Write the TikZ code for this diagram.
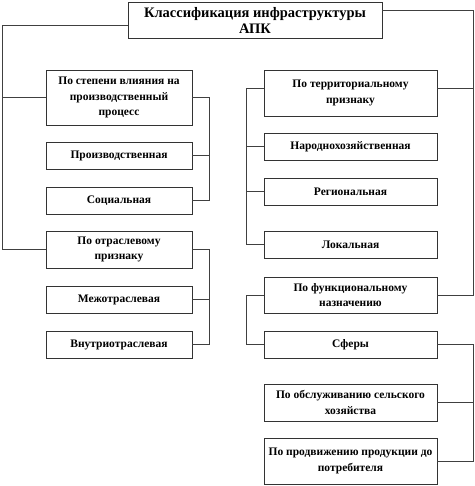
\documentclass[tikz,border=0pt]{standalone}
\usepackage{fontspec}
\setmainfont{Liberation Serif}
\usepackage{tikz}

\begin{document}
\begin{tikzpicture}[x=1pt, y=-1pt,
    box/.style={draw=black!80, rectangle, line width=0.8pt, align=center, font=\fontsize{11.5}{15.5}\selectfont\bfseries, inner sep=1pt},
    lbox/.style={box, minimum width=146pt},
    rbox/.style={box, minimum width=173pt},
    link/.style={draw=black!75, line width=0.7pt}]
                \useasboundingbox (0,0) rectangle (474,486);
                \node[box, minimum width=254pt, minimum height=36pt, font=\fontsize{14.5}{16}\selectfont\bfseries] (root) at (255,20) {Классификация инфраструктуры\\АПК};

                \node[lbox, minimum height=55pt] (l1) at (119,97.5) {По степени влияния на\\производственный\\процесс};
                \node[lbox, minimum height=27pt] (l2) at (119,155.5) {Производственная};
                \node[lbox, minimum height=27pt] (l3) at (119,200.5) {Социальная};
                \node[lbox, minimum height=37pt] (l4) at (119,249.5) {По отраслевому\\признаку};
                \node[lbox, minimum height=27pt] (l5) at (119,299.5) {Межотраслевая};
                \node[lbox, minimum height=27pt] (l6) at (119,344.5) {Внутриотраслевая};

                \node[rbox, minimum height=46pt] (r1) at (350.5,93) {По территориальному\\признаку};
                \node[rbox, minimum height=27pt] (r2) at (350.5,146.5) {Народнохозяйственная};
                \node[rbox, minimum height=27pt] (r3) at (350.5,191.5) {Региональная};
                \node[rbox, minimum height=27pt] (r4) at (350.5,244.5) {Локальная};
                \node[rbox, minimum height=36pt] (r5) at (350.5,295) {По функциональному\\назначению};
                \node[rbox, minimum height=27pt] (r6) at (350.5,344.5) {Сферы};
                \node[rbox, minimum height=37pt] (r7) at (350.5,402.5) {По обслуживанию сельского\\хозяйства};
                \node[rbox, minimum height=46pt] (r8) at (350.5,461) {По продвижению продукции до\\потребителя};

                \coordinate (lt) at (2,25);
                \coordinate (rt) at (473,10);
                \coordinate (lb) at (209,0);
                \coordinate (rl) at (246,0);
                \coordinate (r1e) at ([yshift=5pt]r1.east);
                \coordinate (r1w) at ([yshift=5pt]r1.west);

                % left trunk
                \draw[link] ([yshift=-5pt]root.west) -- (lt) |- (l4.west);
                \draw[link] (lt |- l1.west) -- (l1.west);
                \draw[link] (l1.east) -| (lb |- l3.east) -- (l3.east);
                \draw[link] (l2.east) -- (lb |- l2.east);
                \draw[link] (l4.east) -| (lb |- l6.east) -- (l6.east);
                \draw[link] (l5.east) -- (lb |- l5.east);

                % right trunk
                \draw[link] ([yshift=10pt]root.east) -- (rt) |- (r5.east);
                \draw[link] (r1e) -- (rt |- r1e);
                \draw[link] (r1w) -| (rl |- r4.west) -- (r4.west);
                \draw[link] (r2.west) -- (rl |- r2.west);
                \draw[link] (r3.west) -- (rl |- r3.west);
                \draw[link] (r5.west) -| (rl |- r6.west) -- (r6.west);
                \draw[link] (r6.east) -| (rt |- r8.east) -- (r8.east);
                \draw[link] (r7.east) -- (rt |- r7.east);
            \end{tikzpicture}
\end{document}
